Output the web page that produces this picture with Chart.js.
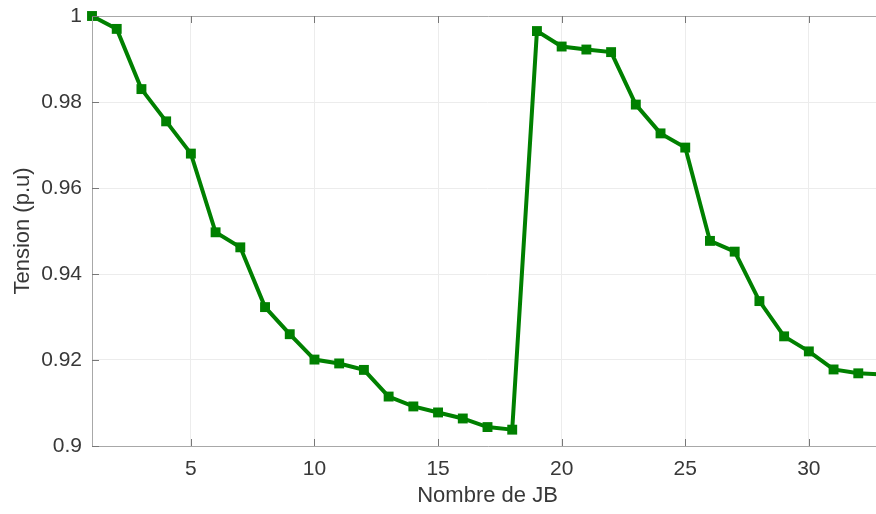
<!DOCTYPE html>
<html>
<head>
<meta charset="utf-8">
<script src="https://cdn.jsdelivr.net/npm/chart.js@4/dist/chart.umd.min.js"></script>
<style>
  html, body { margin: 0; padding: 0; background: #fff; overflow: hidden; }
  #wrap { width: 900px; height: 514px; }
</style>
</head>
<body>
<div id="wrap"><canvas id="voltageCanvas" width="900" height="514"></canvas></div>
<script>
// bus voltage profile, 33 buses
let busNumbers = [1, 2, 3, 4, 5, 6, 7, 8, 9, 10, 11, 12, 13, 14, 15, 16, 17,
    18, 19, 20, 21, 22, 23, 24, 25, 26, 27, 28, 29, 30, 31, 32, 33];
let voltages = [1.0, 0.997, 0.983, 0.9755, 0.968, 0.9497, 0.9462, 0.9323, 0.926,
    0.9201, 0.9192, 0.9177, 0.9115, 0.9092, 0.9078, 0.9064, 0.9044, 0.9038,
    0.9965, 0.9929, 0.9922, 0.9916, 0.9794, 0.9727, 0.9694, 0.9477, 0.9452,
    0.9337, 0.9255, 0.922, 0.9178, 0.9169, 0.9166];
let xTicks = [5, 10, 15, 20, 25, 30];
let yTicks = [0.9, 0.92, 0.94, 0.96, 0.98, 1];

let fontFamily = '"Liberation Sans", Arial, sans-serif';
let textColor = '#383838';
let frameColor = '#a8a8a8';

// box on left/top/bottom with small inward tick marks
let framePlugin = {
    id: 'frame',
    afterDraw: function (chart) {
        let ctx = chart.ctx;
        let a = chart.chartArea;
        let xs = chart.scales.x;
        ctx.save();
        ctx.strokeStyle = frameColor;
        ctx.lineWidth = 1;
        ctx.beginPath();
        ctx.moveTo(a.right + 2, a.top + 0.5);
        ctx.lineTo(a.left + 0.5, a.top + 0.5);
        ctx.lineTo(a.left + 0.5, a.bottom + 0.5);
        ctx.lineTo(a.right + 2, a.bottom + 0.5);
        ctx.stroke();
        ctx.strokeStyle = '#777';
        ctx.beginPath();
        xTicks.forEach(function (v) {
            let px = Math.round(xs.getPixelForValue(v)) + 0.5;
            ctx.moveTo(px, a.bottom);
            ctx.lineTo(px, a.bottom - 7);
            ctx.moveTo(px, a.top);
            ctx.lineTo(px, a.top + 7);
        });
        let ys = chart.scales.y;
        yTicks.forEach(function (v) {
            let py = Math.round(ys.getPixelForValue(v)) + 0.5;
            ctx.moveTo(a.left, py);
            ctx.lineTo(a.left + 7, py);
        });
        ctx.stroke();
        ctx.restore();
    }
};

let drawChart = function () {
    let ctx = document.getElementById('voltageCanvas').getContext('2d');
    let points = busNumbers.map(function (b, i) {
        return { x: b, y: voltages[i] };
    });

    window.voltageChart = new Chart(ctx, {
        type: 'line',
        data: {
            datasets: [{
                data: points,
                borderColor: 'rgb(0, 128, 0)',
                backgroundColor: 'rgb(0, 128, 0)',
                borderWidth: 4,
                pointStyle: 'rect',
                pointRadius: 7,
                pointBorderWidth: 0,
                tension: 0,
                clip: false
            }]
        },
        options: {
            responsive: false,
            animation: false,
            layout: { padding: { top: 16, right: 17, left: 0, bottom: 0 } },
            plugins: {
                legend: { display: false },
                tooltip: { enabled: false }
            },
            scales: {
                x: {
                    type: 'linear',
                    min: 1,
                    max: 33,
                    afterBuildTicks: function (axis) {
                        axis.ticks = xTicks.map(function (v) { return { value: v }; });
                    },
                    afterFit: function (axis) { axis.height = 68; },
                    border: { display: false },
                    grid: { color: '#ececec', drawTicks: false },
                    ticks: {
                        padding: 11,
                        color: textColor,
                        font: { family: fontFamily, size: 21 }
                    },
                    title: {
                        display: true,
                        text: 'Nombre de JB',
                        color: textColor,
                        padding: { bottom: 5 },
                        font: { family: fontFamily, size: 22 }
                    }
                },
                y: {
                    min: 0.9,
                    max: 1,
                    afterBuildTicks: function (axis) {
                        axis.ticks = yTicks.map(function (v) { return { value: v }; });
                    },
                    afterFit: function (axis) {
                        axis.width = 92;
                        axis.paddingTop = 0;
                        axis.paddingBottom = 0;
                    },
                    border: { display: false },
                    grid: {
                        drawTicks: false,
                        color: function (c) {
                            let v = c.tick ? c.tick.value : 0;
                            return (v <= 0.9001 || v >= 0.9999) ? 'rgba(0,0,0,0)' : '#ececec';
                        }
                    },
                    ticks: {
                        padding: 10,
                        color: textColor,
                        font: { family: fontFamily, size: 21 },
                        callback: function (v) { return String(Number(v.toFixed(2))); }
                    },
                    title: {
                        display: true,
                        text: 'Tension (p.u)',
                        color: textColor,
                        padding: { top: 10 },
                        font: { family: fontFamily, size: 22 }
                    }
                }
            }
        },
        plugins: [framePlugin]
    });
};

window.onload = function () {
    drawChart();
};
</script>
</body>
</html>
